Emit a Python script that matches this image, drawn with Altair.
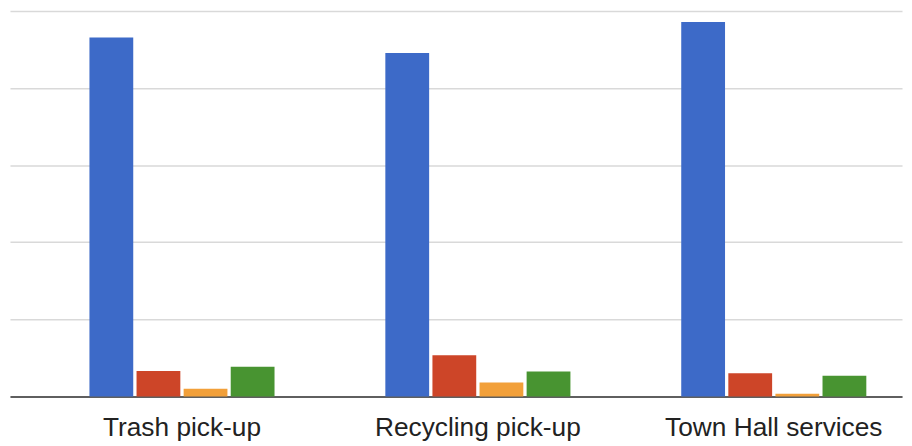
import altair as alt
import pandas as pd

categories = ["Trash pick-up", "Recycling pick-up", "Town Hall services"]
series_names = ["Series 1", "Series 2", "Series 3", "Series 4"]
series_1 = [93.1, 89.1, 97.1]
series_2 = [6.6, 10.7, 6.0]
series_3 = [2.0, 3.6, 0.7]
series_4 = [7.7, 6.5, 5.4]
colors = ["#3d6ac8", "#cd4528", "#f2a03a", "#489431"]

rows = []
for s_name, vals in zip(series_names, [series_1, series_2, series_3, series_4]):
    for c, v in zip(categories, vals):
        rows.append({"category": c, "series": s_name, "value": v})
df = pd.DataFrame(rows)

chart = alt.Chart(df).mark_bar().encode(
    x=alt.X("category:N", sort=categories, title=None,
            scale=alt.Scale(paddingInner=0.3745, paddingOuter=0.1946, align=0.69),
            axis=alt.Axis(labelAngle=0, labelFontSize=26.5, labelColor="#222222",
                          labelFont="Liberation Sans", labelPadding=18, labelLimit=0,
                          ticks=False, domainColor="#333333", domainWidth=1.5,
                          grid=False)),
    xOffset=alt.XOffset("series:N", sort=series_names,
                        scale=alt.Scale(paddingInner=0.07, paddingOuter=0)),
    y=alt.Y("value:Q", title=None,
            scale=alt.Scale(domain=[0, 100], nice=False),
            axis=alt.Axis(values=[0, 20, 40, 60, 80, 100], labels=False, ticks=False,
                          domain=False, grid=True, gridColor="#d9d9d9", gridWidth=1.5)),
    color=alt.Color("series:N", sort=series_names, legend=None,
                    scale=alt.Scale(domain=series_names, range=colors)),
).properties(
    width=900, height=389,
    background="white",
    autosize=alt.AutoSizeParams(type="none"),
    padding={"left": 2, "top": 1, "right": 2, "bottom": 48},
).configure_view(stroke=None, strokeWidth=0)

chart.save("out.html", embed_options={"renderer": "svg", "actions": False})
